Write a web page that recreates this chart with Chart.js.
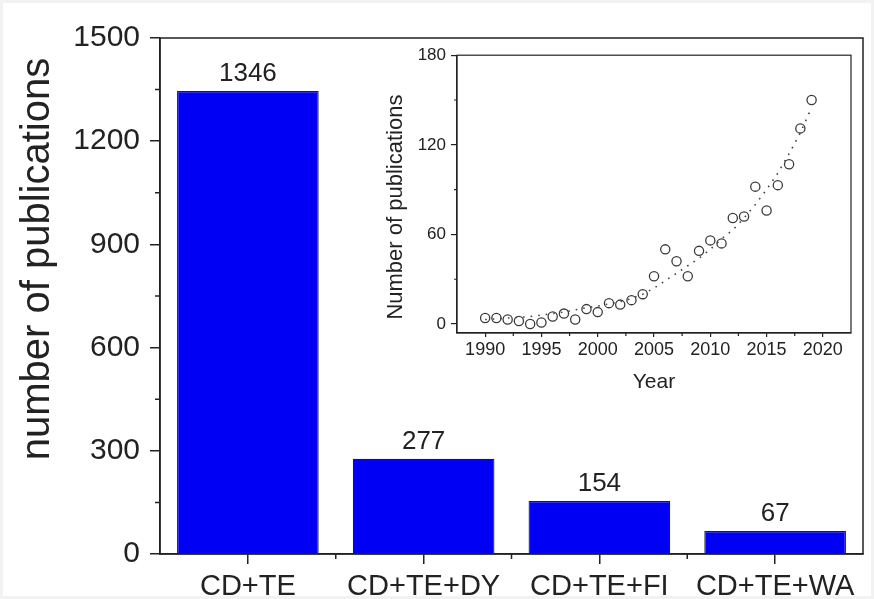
<!DOCTYPE html>
<html>
<head>
<meta charset="utf-8">
<script src="https://cdn.jsdelivr.net/npm/chart.js@4.4.0/dist/chart.umd.min.js"></script>
<style>
  body { margin: 0; background: #fff; }
  #wrap { position: relative; width: 874px; height: 599px; background: #fff; box-shadow: inset 0 0 0 3px #f2f2f2; }
  #mainChart { position: absolute; left: 0; top: 0; }
  #insetChart { position: absolute; left: 370px; top: 40px; }
</style>
</head>
<body>
<div id="wrap">
  <canvas id="mainChart" width="874" height="599"></canvas>
  <canvas id="insetChart" width="504" height="360"></canvas>
</div>
<script>
// main bar chart
const categories = ['CD+TE', 'CD+TE+DY', 'CD+TE+FI', 'CD+TE+WA'];
const publications = [1346, 277, 154, 67];
const mainYTicks = [0, 300, 600, 900, 1200, 1500];
const mainYMinor = [150, 450, 750, 1050, 1350];

// inset: yearly publications
const years = [1990, 1991, 1992, 1993, 1994, 1995, 1996, 1997, 1998, 1999,
               2000, 2001, 2002, 2003, 2004, 2005, 2006, 2007, 2008, 2009,
               2010, 2011, 2012, 2013, 2014, 2015, 2016, 2017, 2018, 2019];
const yearlyCounts = [4, 4, 3, 2, 0, 1, 5, 7, 3, 10,
                      8, 14, 13, 16, 20, 32, 50, 42, 32, 49,
                      56, 54, 71, 72, 92, 76, 93, 107, 131, 150];
const fitCounts = [3, 3.5, 4, 4.5, 5, 6, 7, 8, 9.5, 11,
                   12, 13.5, 15, 17, 20, 24, 29, 34, 39, 44,
                   50, 57, 63, 71, 80, 90, 101, 114, 128, 145];
const insetXTicks = [1990, 1995, 2000, 2005, 2010, 2015, 2020];
const insetXMinor = [1992.5, 1997.5, 2002.5, 2007.5, 2012.5, 2017.5];
const insetYTicks = [0, 60, 120, 180];
const insetYMinor = [30, 90, 150];

const axisColor = '#222';
const fontFamily = "'Liberation Sans', Arial, sans-serif";
Chart.defaults.font.family = fontFamily;
Chart.defaults.color = axisColor;

// box frame + minor ticks (Chart.js has no minor ticks)
const framePlugin = {
    id: 'frame',
    afterDraw(chart, args, opts) {
        const { ctx, chartArea: a, scales } = chart;
        ctx.save();
        ctx.strokeStyle = axisColor;
        ctx.lineWidth = opts.lineWidth;
        ctx.strokeRect(a.left, a.top, a.right - a.left, a.bottom - a.top);
        ctx.beginPath();
        opts.yMinor.forEach(v => {
            const py = scales.y.getPixelForValue(v);
            ctx.moveTo(a.left - opts.yMinorLen, py);
            ctx.lineTo(a.left, py);
        });
        opts.xMinor.forEach(v => {
            const px = scales.x.getPixelForValue(v);
            ctx.moveTo(px, a.bottom);
            ctx.lineTo(px, a.bottom + opts.xMinorLen);
        });
        ctx.stroke();

        // y axis title, a bit off centre like the original figure
        const t = opts.yTitle;
        ctx.translate(t.x, (a.top + a.bottom) / 2 + t.shift);
        ctx.rotate(-Math.PI / 2);
        ctx.fillStyle = axisColor;
        ctx.font = t.size + 'px ' + fontFamily;
        ctx.textAlign = 'center';
        ctx.textBaseline = 'middle';
        ctx.fillText(t.text, 0, 0);
        ctx.restore();
    }
};

// numbers above the bars
const valueLabels = {
    id: 'valueLabels',
    afterDatasetsDraw(chart) {
        const { ctx } = chart;
        const meta = chart.getDatasetMeta(0);
        ctx.save();
        ctx.fillStyle = axisColor;
        ctx.font = '26px ' + fontFamily;
        ctx.textAlign = 'center';
        ctx.textBaseline = 'alphabetic';
        meta.data.forEach((bar, i) => {
            ctx.fillText(publications[i], bar.x, bar.y - 10);
        });
        ctx.restore();
    }
};

new Chart(document.getElementById('mainChart'), {
    type: 'bar',
    data: {
        labels: categories,
        datasets: [{
            data: publications,
            backgroundColor: '#0000f5',
            borderColor: '#1a1a40',
            borderWidth: 1.2,
            categoryPercentage: 1,
            barPercentage: 0.806
        }]
    },
    options: {
        responsive: false,
        animation: false,
        layout: { padding: { left: 0, top: 38, right: 11, bottom: 0 } },
        plugins: {
            legend: { display: false },
            tooltip: { enabled: false },
            frame: {
                lineWidth: 1.5,
                yMinor: mainYMinor,
                yMinorLen: 5,
                xMinor: categories.slice(1).map((c, i) => i + 0.5),
                xMinorLen: 5,
                yTitle: { text: 'number of publications', size: 40, x: 38, shift: -37 }
            }
        },
        scales: {
            x: {
                grid: { drawOnChartArea: false, offset: false, tickLength: 10, color: axisColor, lineWidth: 1.5 },
                border: { color: axisColor, width: 1.5 },
                ticks: { font: { size: 29 }, padding: 6, maxRotation: 0, autoSkip: false },
                afterFit: s => { s.height = 45; }
            },
            y: {
                min: 0,
                max: 1500,
                bounds: 'data',
                afterBuildTicks: s => { s.ticks = mainYTicks.map(v => ({ value: v })); },
                grid: { drawOnChartArea: false, tickLength: 10, color: axisColor, lineWidth: 1.5 },
                border: { color: axisColor, width: 1.5 },
                ticks: { font: { size: 30 }, padding: 10, callback: v => String(v) },
                afterFit: s => { s.width = 160; }
            }
        }
    },
    plugins: [framePlugin, valueLabels]
});

new Chart(document.getElementById('insetChart'), {
    type: 'scatter',
    data: {
        datasets: [{
            data: years.map((yr, i) => ({ x: yr, y: fitCounts[i] })),
            showLine: true,
            borderColor: '#444',
            borderWidth: 1.6,
            borderDash: [1.6, 6],
            pointRadius: 0,
            fill: false
        }, {
            data: years.map((yr, i) => ({ x: yr, y: yearlyCounts[i] })),
            showLine: false,
            pointStyle: 'circle',
            pointRadius: 4.6,
            pointBorderWidth: 1.3,
            borderColor: '#3a3a3a',
            backgroundColor: 'rgba(0,0,0,0)'
        }]
    },
    options: {
        responsive: false,
        animation: false,
        layout: { padding: { left: 0, top: 10, right: 23, bottom: 0 } },
        plugins: {
            legend: { display: false },
            tooltip: { enabled: false },
            frame: {
                lineWidth: 1.2,
                yMinor: insetYMinor,
                yMinorLen: 3,
                xMinor: insetXMinor,
                xMinorLen: 3,
                yTitle: { text: 'Number of publications', size: 22, x: 26, shift: 13 }
            }
        },
        scales: {
            x: {
                type: 'linear',
                min: 1987.5,
                max: 2022.5,
                bounds: 'data',
                afterBuildTicks: s => { s.ticks = insetXTicks.map(v => ({ value: v })); },
                grid: { drawOnChartArea: false, tickLength: 4, color: axisColor, lineWidth: 1.2 },
                border: { color: axisColor, width: 1.2 },
                ticks: { font: { size: 18 }, padding: 2, maxRotation: 0, callback: v => String(v) },
                title: { display: true, text: 'Year', font: { size: 21 }, padding: { bottom: 5 } },
                afterFit: s => { s.height = 67; }
            },
            y: {
                min: -6,
                max: 180,
                bounds: 'data',
                afterBuildTicks: s => { s.ticks = insetYTicks.map(v => ({ value: v })); },
                grid: { drawOnChartArea: false, tickLength: 6, color: axisColor, lineWidth: 1.2 },
                border: { color: axisColor, width: 1.2 },
                ticks: { font: { size: 17 }, padding: 5 },
                afterFit: s => { s.width = 87; }
            }
        }
    },
    plugins: [framePlugin]
});
</script>
</body>
</html>
